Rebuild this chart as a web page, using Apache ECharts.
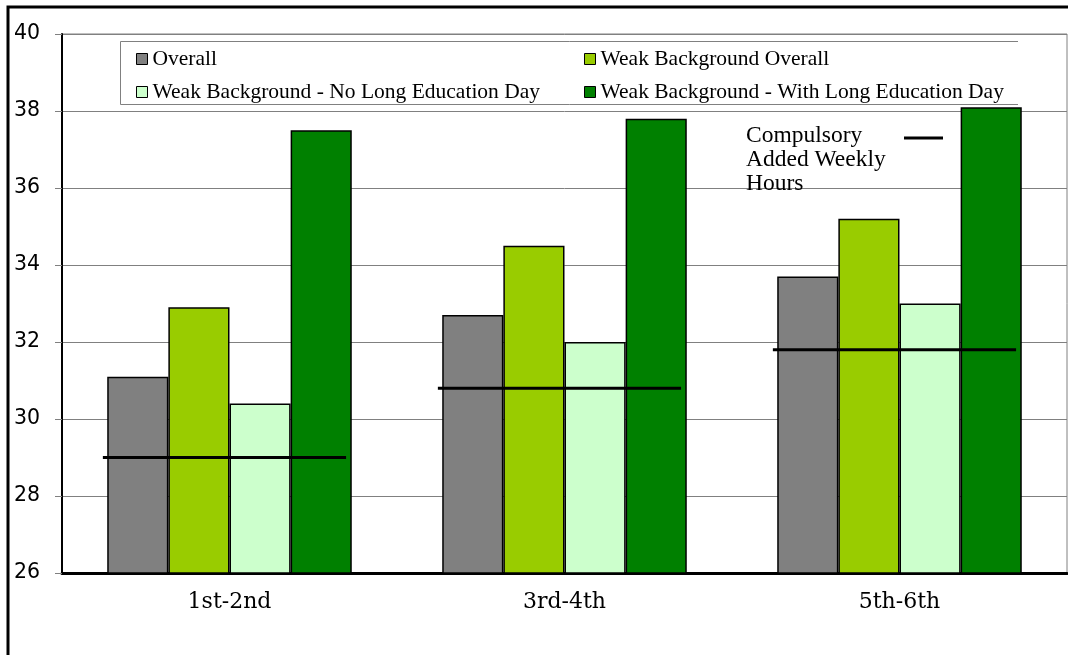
<!DOCTYPE html>
<html>
<head>
<meta charset="utf-8">
<style>
  html, body { margin: 0; padding: 0; background: #ffffff; }
  #chart { width: 1068px; height: 655px; }
</style>
<script src="https://cdn.jsdelivr.net/npm/echarts@6/dist/echarts.min.js"></script>
</head>
<body>
<div id="chart"></div>
<script>
// Grade groups on the category axis
const categories = ['1st-2nd', '3rd-4th', '5th-6th'];

// Average weekly hours per group
const overall = [31.1, 32.7, 33.7];
const weakOverall = [32.9, 34.5, 35.2];
const weakNoLongDay = [30.4, 32.0, 33.0];
const weakWithLongDay = [37.5, 37.8, 38.1];

// Compulsory added weekly hours (horizontal marker across each group)
const compulsoryHours = [29.0, 30.8, 31.8];

// Value axis ticks
const yTicks = [26, 28, 30, 32, 34, 36, 38, 40];

const seriesNames = [
  'Overall',
  'Weak Background Overall',
  'Weak Background - No Long Education Day',
  'Weak Background - With Long Education Day'
];
const seriesColors = ['#808080', '#99cc00', '#ccffcc', '#008000'];
const seriesData = [overall, weakOverall, weakNoLongDay, weakWithLongDay];

const chart = echarts.init(document.getElementById('chart'), null, { renderer: 'canvas' });

const legendText = {
  fontFamily: '"Liberation Serif", "Times New Roman", serif',
  fontSize: 21.5,
  lineHeight: 21,
  color: '#000'
};

const barSeries = seriesNames.map((name, i) => ({
  name: name,
  type: 'bar',
  data: seriesData[i],
  barGap: '0%',
  barCategoryGap: '27%',
  itemStyle: { color: seriesColors[i], borderColor: '#000', borderWidth: 1.5 },
  z: 2
}));

// Thick horizontal line spanning the bars of each group
const markerSeries = {
  name: 'Compulsory Added Weekly Hours',
  type: 'custom',
  data: compulsoryHours.map((v, i) => [i, v]),
  encode: { x: 0, y: 1 },
  z: 5,
  renderItem: function (params, api) {
    const pt = api.coord([api.value(0), api.value(1)]);
    const band = api.size([1, 0])[0];
    return {
      type: 'line',
      shape: { x1: pt[0] - band * 0.378, y1: pt[1], x2: pt[0] + band * 0.348, y2: pt[1] },
      style: { stroke: '#000', lineWidth: 3 }
    };
  }
};

chart.setOption({
  animation: false,
  backgroundColor: '#ffffff',
  grid: {
    left: 62, right: 1, top: 34, bottom: 82,
    show: true, borderColor: '#808080', borderWidth: 1
  },
  legend: [
    {
      data: [seriesNames[0], seriesNames[2]],
      orient: 'vertical',
      left: 131, top: 43,
      itemWidth: 11, itemHeight: 11, itemGap: 11,
      icon: 'rect',
      itemStyle: { borderColor: '#000', borderWidth: 1 },
      textStyle: legendText
    },
    {
      data: [seriesNames[1], seriesNames[3]],
      orient: 'vertical',
      left: 579, top: 43,
      itemWidth: 11, itemHeight: 11, itemGap: 11,
      icon: 'rect',
      itemStyle: { borderColor: '#000', borderWidth: 1 },
      textStyle: legendText
    }
  ],
  xAxis: {
    type: 'category',
    data: categories,
    axisLine: { show: true, lineStyle: { color: '#000', width: 3 } },
    axisTick: { show: false },
    axisLabel: {
      margin: 18,
      color: '#000',
      fontFamily: '"DejaVu Serif", serif',
      fontSize: 22
    },
    splitLine: { show: false }
  },
  yAxis: {
    type: 'value',
    min: yTicks[0],
    max: yTicks[yTicks.length - 1],
    interval: 2,
    axisLine: { show: true, lineStyle: { color: '#000', width: 2 } },
    axisTick: { show: true, length: 7, lineStyle: { color: '#808080', width: 1 } },
    axisLabel: {
      margin: 22,
      color: '#000',
      fontFamily: '"DejaVu Sans", sans-serif',
      fontSize: 20.5
    },
    splitLine: { show: true, lineStyle: { color: '#808080', width: 1 } }
  },
  graphic: [
    // outer frame (top and left edges)
    { type: 'polyline', shape: { points: [[8, 655], [8, 7], [1068, 7]] }, style: { stroke: '#000', lineWidth: 3, fill: null }, silent: true },
    // legend box outline
    { type: 'polyline', shape: { points: [[1018, 41.5], [120.5, 41.5], [120.5, 104.5], [1018, 104.5]] }, style: { stroke: '#808080', lineWidth: 1, fill: null }, silent: true, z: 10 },
    // marker-line key
    {
      type: 'text', left: 746, top: 124, z: 10,
      style: {
        text: 'Compulsory\nAdded Weekly\nHours',
        font: '23.5px "Liberation Serif", "Times New Roman", serif',
        lineHeight: 24,
        fill: '#000'
      }
    },
    { type: 'line', shape: { x1: 904, y1: 138, x2: 943, y2: 138 }, style: { stroke: '#000', lineWidth: 3 }, z: 10 }
  ],
  series: barSeries.concat([markerSeries])
});
</script>
</body>
</html>
